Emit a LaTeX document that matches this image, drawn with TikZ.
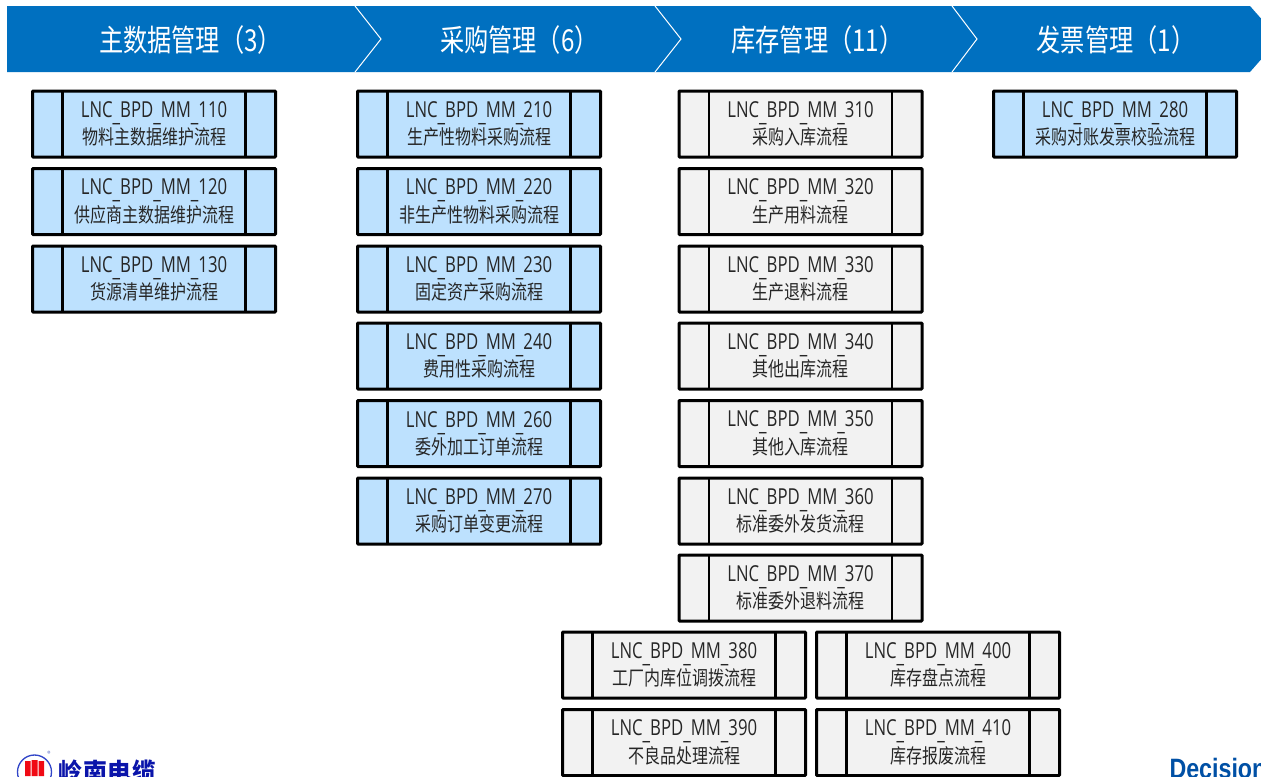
\documentclass[tikz,border=0pt]{standalone}
\usepackage{fontspec}
\setmainfont[FakeStretch=0.76]{Open Sans}
\newfontfamily\cjk[FakeStretch=0.8]{Noto Sans CJK SC}
\newfontfamily\logofont{Noto Sans CJK SC}
\newfontfamily\brand[FakeStretch=0.83]{Liberation Sans}

\tikzset{every picture/.style={line width=0.75pt}}
\tikzset{
  procbox/.style={draw=black,line width=2.25pt,rounded corners=0.5pt,minimum width=182.25pt,minimum height=49.5pt,inner sep=0pt,outer sep=0pt,align=center,text=black!85,font=\fontsize{16.5}{20.5}\selectfont},
  bluebox/.style={procbox,fill={rgb, 255:red, 189; green, 225; blue, 254 }},
  greybox/.style={procbox,fill={rgb, 255:red, 242; green, 242; blue, 242 }},
  sidebar/.style={draw=black,line width=1.9pt},
  headtext/.style={text=white,inner sep=0pt,font=\fontsize{22.7}{27}\cjk},
  chevron/.style={draw=white,line width=0.75pt}
}
\newcommand{\mmbar}{\raisebox{-3pt}{\_}}
\newcommand{\mmbox}[5]{%
  \node [#1] (#2) at (#3) {LNC\mmbar BPD\mmbar MM\mmbar #4\\{\cjk\fontsize{15}{20.5}\selectfont #5}};
  \draw [sidebar] ([xshift=22.5pt]#2.north west) -- ([xshift=22.5pt]#2.south west);
  \draw [sidebar] ([xshift=-22.5pt]#2.north east) -- ([xshift=-22.5pt]#2.south east);
}

\begin{document}
\begin{tikzpicture}[x=0.75pt,y=0.75pt,yscale=-1,xscale=1]
\useasboundingbox (0,0) rectangle (1261,776);
\clip (0,0) rectangle (1261,776);

%Shape: Header band
\fill [color={rgb, 255:red, 0; green, 112; blue, 192 }] (7,6) -- (1250,6) -- (1279,39) -- (1250,72) -- (7,72) -- cycle ;
\draw [chevron] (355,6) -- (381,39) -- (355,72) ;
\draw [chevron] (655,6) -- (681,39) -- (655,72) ;
\draw [chevron] (952,6) -- (977,39) -- (952,72) ;

% Text Node
\node [headtext] (headmaster) at (190.5,40) {主数据管理（3）};
\node [headtext] (headbuy) at (519.5,40) {采购管理（6）};
\node [headtext] (headstock) at (817.5,40) {库存管理（11）};
\node [headtext] (headbill) at (1116,40) {发票管理（1）};

%Master data column
\mmbox{bluebox}{mm110}{154,124}{110}{物料主数据维护流程}
\mmbox{bluebox}{mm120}{154,201.5}{120}{供应商主数据维护流程}
\mmbox{bluebox}{mm130}{154,279}{130}{货源清单维护流程}

%Purchasing column
\mmbox{bluebox}{mm210}{479,124}{210}{生产性物料采购流程}
\mmbox{bluebox}{mm220}{479,201.5}{220}{非生产性物料采购流程}
\mmbox{bluebox}{mm230}{479,279}{230}{固定资产采购流程}
\mmbox{bluebox}{mm240}{479,356}{240}{费用性采购流程}
\mmbox{bluebox}{mm260}{479,433.5}{260}{委外加工订单流程}
\mmbox{bluebox}{mm270}{479,511}{270}{采购订单变更流程}

%Stock column
\mmbox{greybox}{mm310}{800.5,124}{310}{采购入库流程}
\mmbox{greybox}{mm320}{800.5,201.5}{320}{生产用料流程}
\mmbox{greybox}{mm330}{800.5,279}{330}{生产退料流程}
\mmbox{greybox}{mm340}{800.5,356}{340}{其他出库流程}
\mmbox{greybox}{mm350}{800.5,433.5}{350}{其他入库流程}
\mmbox{greybox}{mm360}{800.5,511}{360}{标准委外发货流程}
\mmbox{greybox}{mm370}{800.5,588}{370}{标准委外退料流程}
\mmbox{greybox}{mm380}{684,665}{380}{工厂内库位调拨流程}
\mmbox{greybox}{mm400}{938,665}{400}{库存盘点流程}
\mmbox{greybox}{mm390}{684,742.5}{390}{不良品处理流程}
\mmbox{greybox}{mm410}{938,742.5}{410}{库存报废流程}

%Invoice column
\mmbox{bluebox}{mm280}{1115,124}{280}{采购对账发票校验流程}

%Shape: Logo left
\draw [color={rgb, 255:red, 50; green, 70; blue, 200 },line width=1pt] (34.5,772) circle (17) ;
\fill [color={rgb, 255:red, 240; green, 10; blue, 20 }] (25,761) rectangle (30.5,776) (31.5,760) rectangle (37.5,776) (38.5,761) rectangle (44,776) ;
\node [inner sep=0pt,text={rgb, 255:red, 70; green, 90; blue, 190 },font=\fontsize{5}{5}\logofont] (regmark) at (49,753.5) {®};
\node [anchor=base west,inner sep=0pt,text={rgb, 255:red, 10; green, 20; blue, 170 },font=\fontsize{18}{18}\logofont\bfseries] (logotext) at (58,780) {岭\hspace{0.5pt}南\hspace{0.5pt}电\hspace{0.5pt}缆};

% Text Node
\node [anchor=base west,inner sep=0pt,text={rgb, 255:red, 0; green, 80; blue, 165 },font=\fontsize{21}{21}\brand\bfseries] (brandname) at (1169,778) {Decision};

\end{tikzpicture}
\end{document}
